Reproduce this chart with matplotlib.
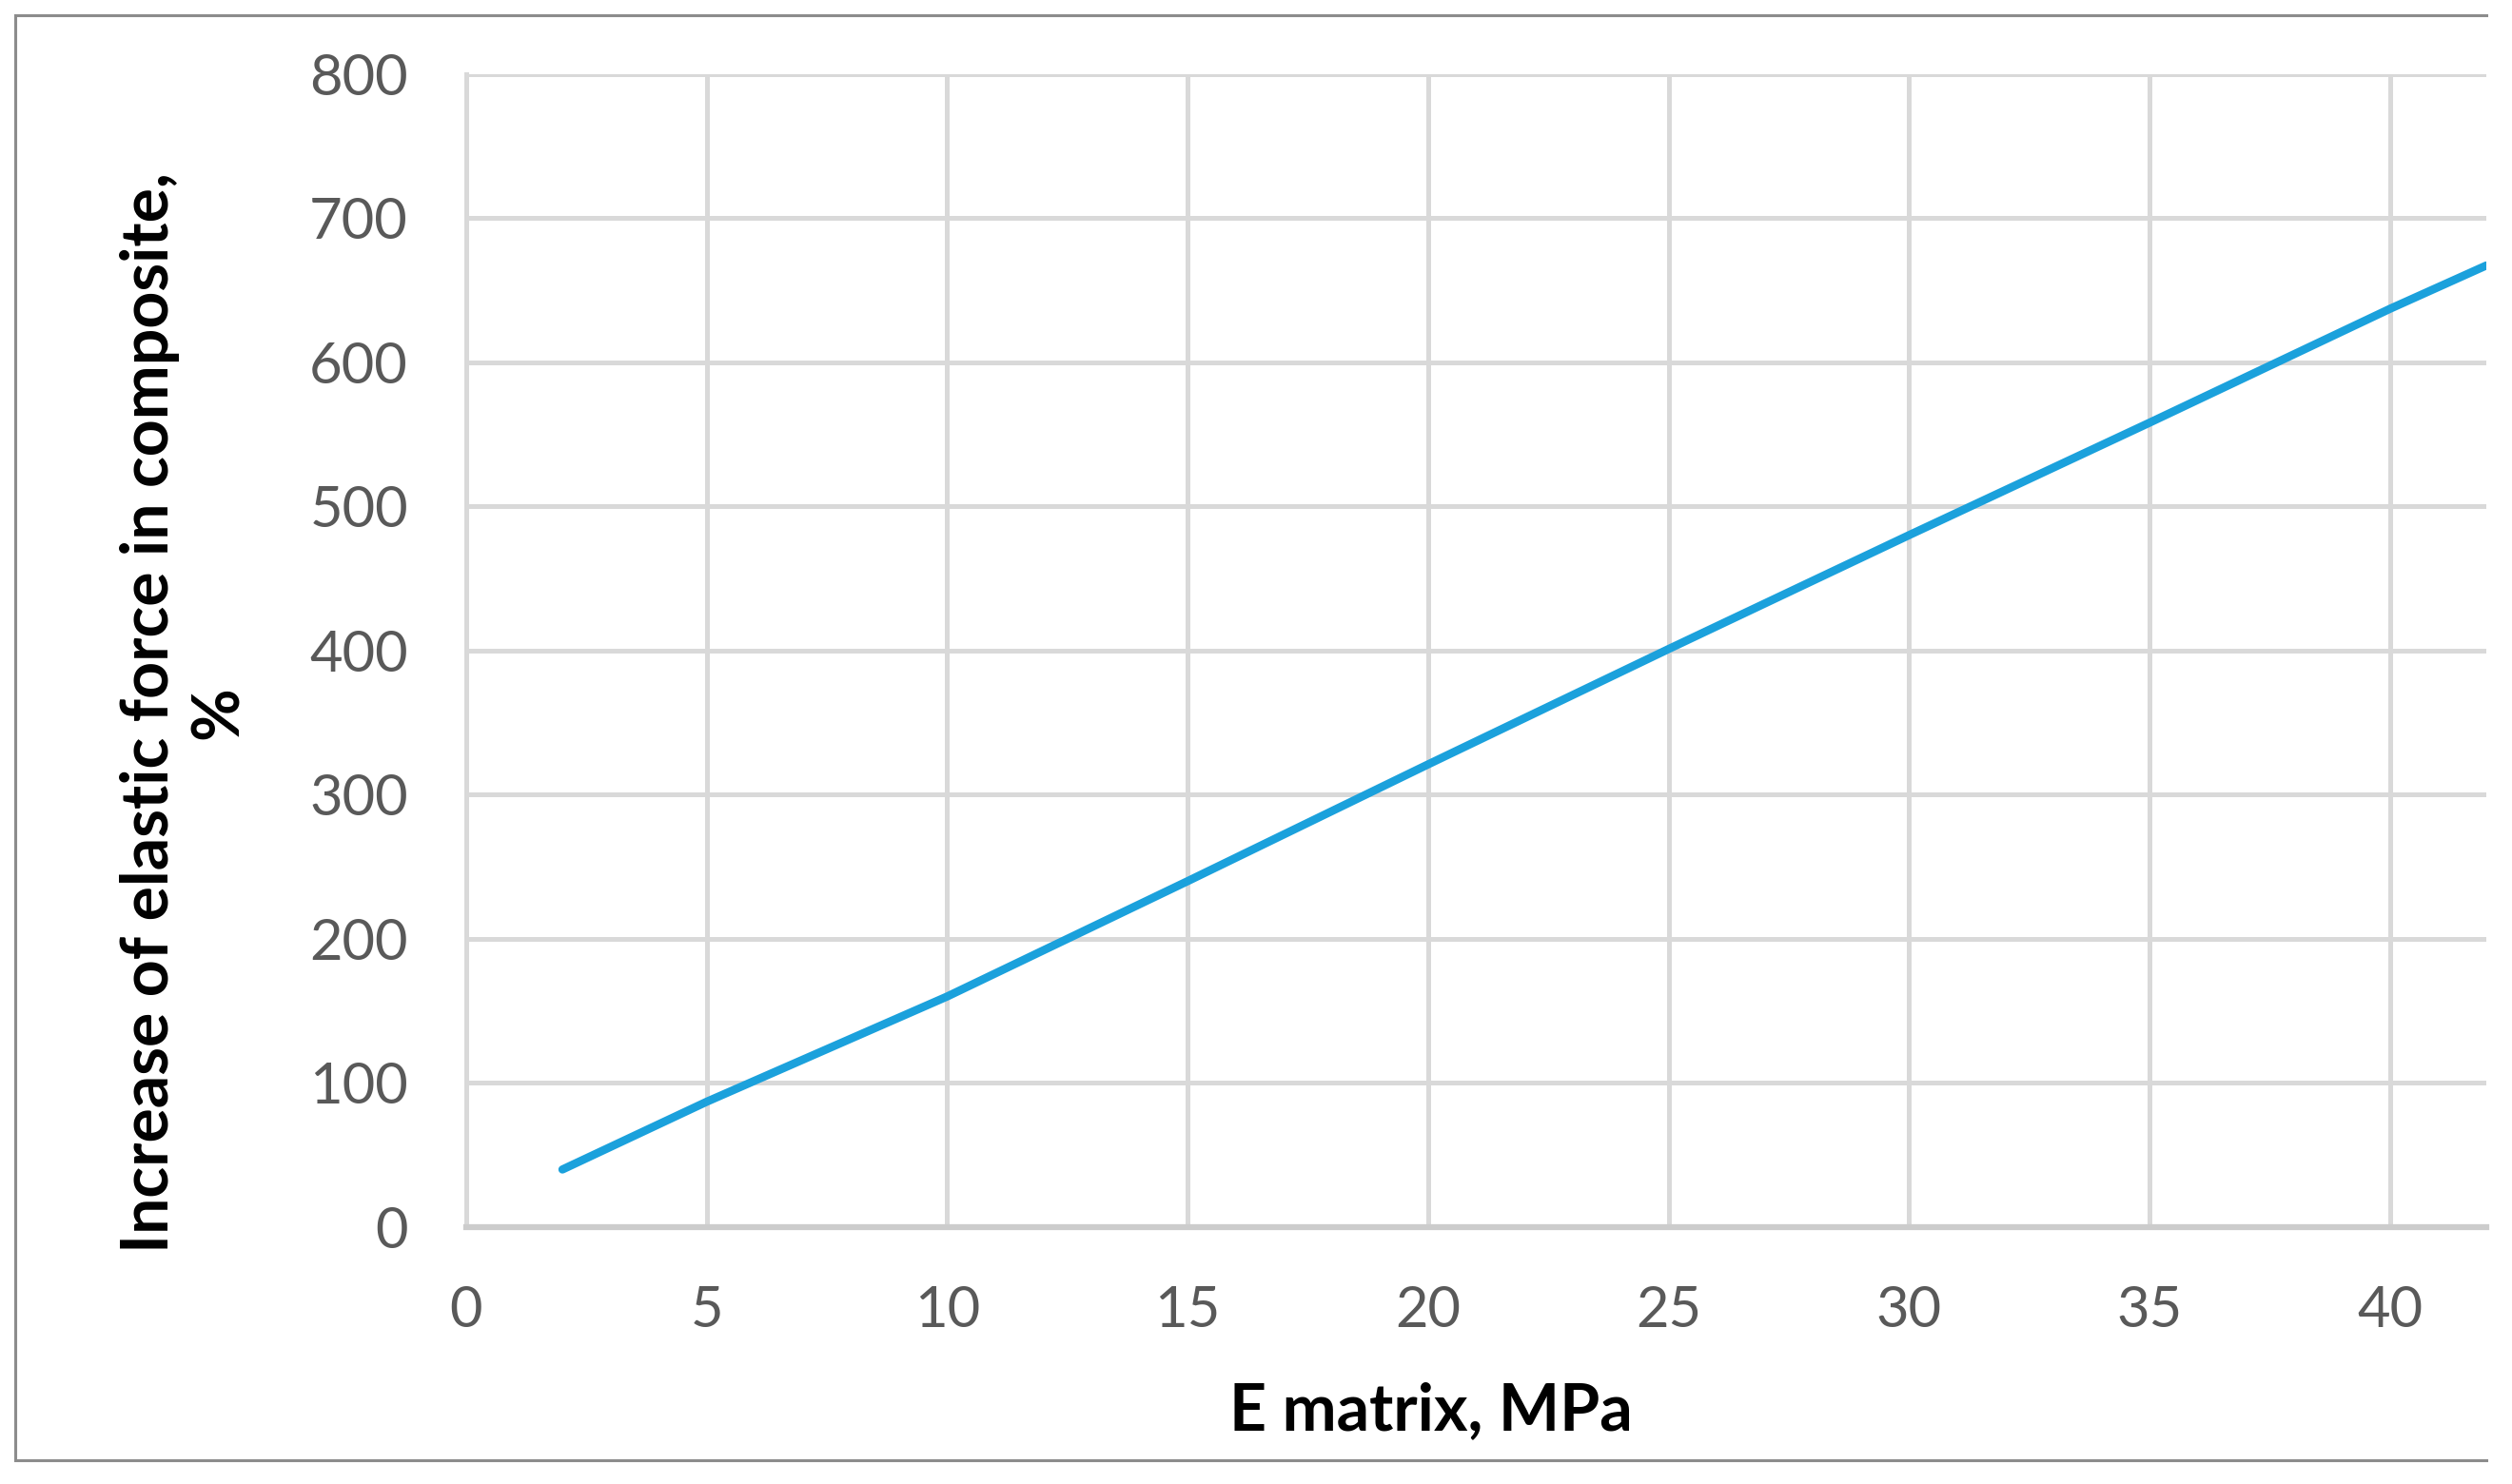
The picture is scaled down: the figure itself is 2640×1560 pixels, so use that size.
import matplotlib
matplotlib.use("Agg")
import matplotlib.pyplot as plt
from matplotlib.lines import Line2D

# Data
e_matrix = [2, 5, 10, 15, 20, 25, 30, 35, 40, 42]
force_increase = [40, 87, 160, 240, 321, 401, 480, 558, 637, 667]
x_ticks = [0, 5, 10, 15, 20, 25, 30, 35, 40]
y_ticks = [0, 100, 200, 300, 400, 500, 600, 700, 800]
x_label = "E matrix, MPa"
y_label = "Increase of elastic force in composite,\n%"

plt.rcParams['font.family'] = ['Lato', 'DejaVu Sans']

W, H = 2640, 1560
fig = plt.figure(figsize=(W / 100, H / 100), dpi=100)
fig.patch.set_facecolor("white")

# outer border (cropped on the right: no right edge)
L, R, T, B = 16, 2613, 16, 1535
bx = [R / W, L / W, L / W, R / W]
by = [1 - T / H, 1 - T / H, 1 - B / H, 1 - B / H]
fig.add_artist(Line2D(bx, by, transform=fig.transFigure, color="#8c8c8c",
                      linewidth=2.2, solid_joinstyle="miter"))

ax = fig.add_axes([490 / W, 1 - 1290 / H, (2613 - 490) / W, (1290 - 77.5) / H])
ax.plot(e_matrix, force_increase, color="#1ba1dc", linewidth=6.2,
        solid_capstyle="round", solid_joinstyle="round", zorder=3)

ax.set_xlim(0, 42)
ax.set_ylim(0, 800)
ax.set_xticks(x_ticks)
ax.set_yticks(y_ticks)
ax.grid(True, color="#d9d9d9", linewidth=3.6)
ax.set_axisbelow(True)
for s in ["top", "right"]:
    ax.spines[s].set_visible(False)
ax.spines["left"].set_color("#d9d9d9")
ax.spines["left"].set_linewidth(3.6)
ax.spines["bottom"].set_color("#cccccc")
ax.spines["bottom"].set_linewidth(4.5)
ax.tick_params(axis="both", length=0, labelsize=43, labelcolor="#595959")
ax.tick_params(axis="y", pad=44)
ax.tick_params(axis="x", pad=44)

fig.text(1504 / W, 1 - 1484 / H, x_label, ha="center", va="center",
         fontsize=49, fontweight="bold", color="black")
fig.text(194 / W, 1 - 749 / H, y_label, ha="center", va="center", rotation=90,
         fontsize=49, fontweight="bold", color="black", linespacing=1.2,
         multialignment="center")

fig.savefig("out.png", dpi=100, facecolor="white")
